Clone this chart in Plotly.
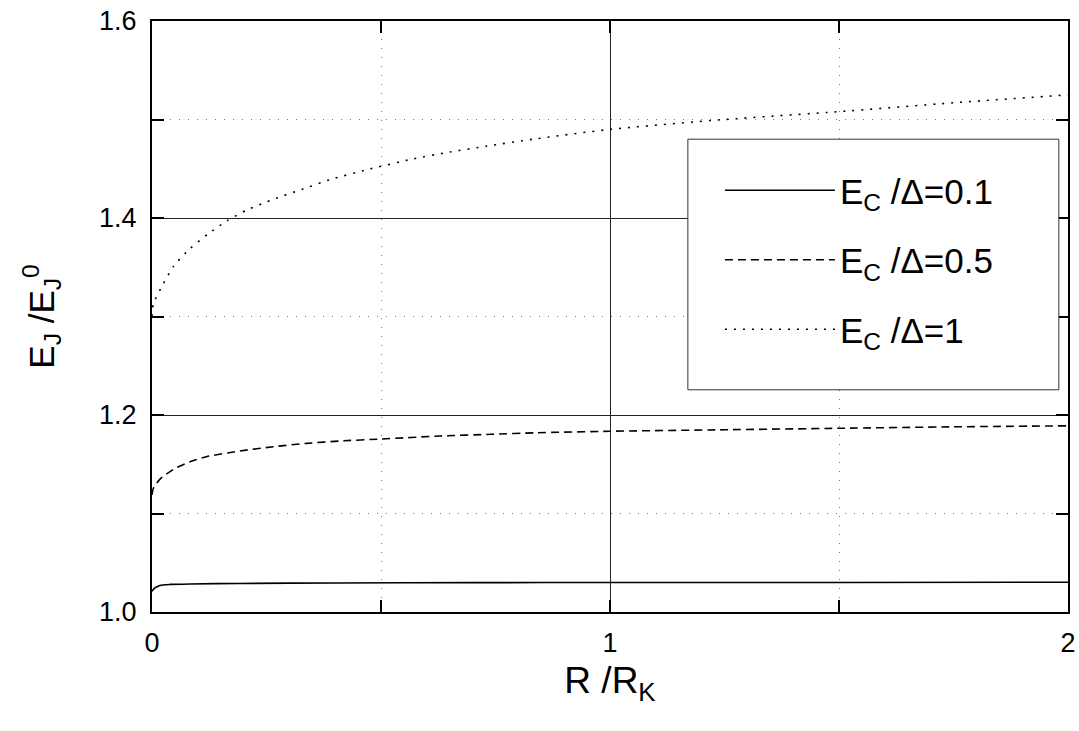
import plotly.graph_objects as go

# Data
x_01 = [0, 0.005, 0.017, 0.04, 0.083, 0.19, 0.4, 0.7, 1.0, 1.5, 2.0]
y_01 = [1.021, 1.024, 1.027, 1.028, 1.0285, 1.029, 1.0295, 1.0298, 1.030, 1.030, 1.0302]

x_05 = [0, 0.003, 0.017, 0.047, 0.083, 0.119, 0.192, 0.265, 0.338, 0.41, 0.5, 0.63,
        0.74, 0.84, 1.0, 1.25, 1.5, 1.75, 2.0]
y_05 = [1.119, 1.1256, 1.1347, 1.1449, 1.1526, 1.1577, 1.1635, 1.1678, 1.1712, 1.1736,
        1.1756, 1.1787, 1.1804, 1.182, 1.1835, 1.185, 1.1865, 1.188, 1.189]

x_1 = [0, 0.003, 0.021, 0.047, 0.083, 0.123, 0.163, 0.207, 0.265, 0.327, 0.389, 0.469,
       0.57, 0.651, 0.731, 0.832, 1.0, 1.25, 1.5, 1.75, 2.0]
y_1 = [1.30, 1.313, 1.330, 1.351, 1.369, 1.384, 1.397, 1.408, 1.419, 1.429, 1.439, 1.449,
       1.460, 1.467, 1.473, 1.480, 1.490, 1.500, 1.508, 1.517, 1.525]

names = ["E<sub>C</sub> /Δ=0.1", "E<sub>C</sub> /Δ=0.5", "E<sub>C</sub> /Δ=1"]
dashes = ["solid", "8px,5px", "2px,7px"]

x_ticks = [0, 1, 2]
y_ticks = [1.0, 1.2, 1.4, 1.6]
y_tick_text = ["1.0", "1.2", "1.4", "1.6"]

FONT = "Liberation Sans, Arial, sans-serif"

fig = go.Figure()
for i, (xs, ys) in enumerate([(x_01, y_01), (x_05, y_05), (x_1, y_1)]):
    fig.add_trace(go.Scatter(
        x=xs, y=ys, mode="lines", name=names[i], legendgroup=f"g{i}",
        line=dict(color="black", width=1.6, dash=dashes[i], shape="spline", smoothing=0.6),
    ))

axis_common = dict(
    showline=True, linecolor="black", linewidth=2, mirror="allticks",
    ticks="inside", ticklen=12, tickwidth=2, tickcolor="black",
    showgrid=True, gridcolor="#222", gridwidth=1,
    zeroline=False, automargin=False, ticklabeloverflow="allow",
    tickfont=dict(family=FONT, size=27, color="black"),
)

fig.update_xaxes(
    range=[0, 2], tickmode="array", tickvals=x_ticks, ticktext=[str(v) for v in x_ticks],
    minor=dict(dtick=0.5, tick0=0, ticks="inside", ticklen=12, tickwidth=2, tickcolor="black",
               showgrid=True, gridcolor="#777", gridwidth=1, griddash="1px,8px"),
    title=dict(text="R /R<sub>K</sub>", font=dict(family=FONT, size=37, color="black"), standoff=10),
    ticklabelstandoff=6,
    **axis_common,
)
fig.update_yaxes(
    range=[1.0, 1.6], tickmode="array", tickvals=y_ticks, ticktext=y_tick_text,
    minor=dict(dtick=0.1, tick0=1.0, ticks="inside", ticklen=12, tickwidth=2, tickcolor="black",
               showgrid=True, gridcolor="#777", gridwidth=1, griddash="1px,8px"),
    title=dict(text="E<sub>J</sub> /E<sub>J</sub><sup>0</sup>", font=dict(family=FONT, size=35, color="black"), standoff=34),
    ticklabelstandoff=8,
    **axis_common,
)

# legend frame
fig.add_shape(type="rect", xref="paper", yref="paper",
              x0=0.585, x1=0.99, y0=0.376, y1=0.8,
              line=dict(color="#333", width=1), fillcolor="white", layer="above")

fig.update_layout(
    width=1079, height=731,
    margin=dict(l=152, r=11, t=21, b=119),
    paper_bgcolor="white", plot_bgcolor="white",
    font=dict(family=FONT, color="black"),
    showlegend=True,
    legend=dict(
        x=0.62, y=0.763, xanchor="left", yanchor="top",
        bgcolor="rgba(0,0,0,0)", borderwidth=0,
        font=dict(family=FONT, size=35, color="black"),
        traceorder="grouped", tracegroupgap=21, itemwidth=110,
    ),
)

# remove the default 8px page margin so the figure fills the window exactly
fig.write_html("out.html", config={"displayModeBar": False},
               post_script="document.body.style.margin='0';document.body.style.overflow='hidden';")
